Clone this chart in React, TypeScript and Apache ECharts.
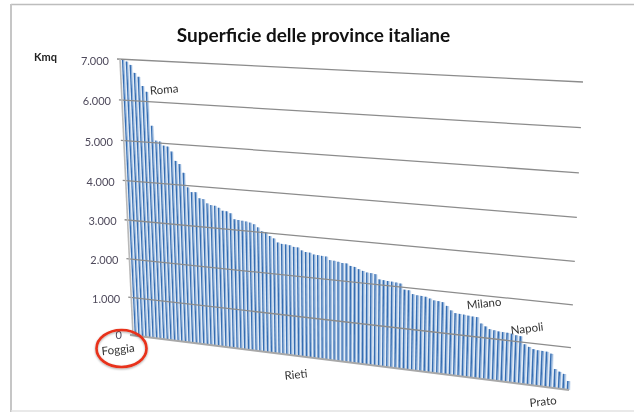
import React, { useEffect, useRef } from "react";
import * as echarts from "echarts";

const chartTitle = "Superficie delle province italiane";
const unitLabel = "Kmq";
const tickValues = [0, 1000, 2000, 3000, 4000, 5000, 6000, 7000];
const tickLabels = ["0", "1.000", "2.000", "3.000", "4.000", "5.000", "6.000", "7.000"];
const areas = [
  6980, 6945, 6870, 6680, 6590, 6370, 6235, 5410, 5050, 5035,
  4940, 4925, 4810, 4585, 4515, 4305, 3950, 3840, 3850, 3705,
  3690, 3595, 3560, 3550, 3510, 3445, 3440, 3400, 3260, 3250,
  3240, 3230, 3210, 3180, 3110, 3025, 3015, 2925, 2875, 2785,
  2760, 2755, 2745, 2715, 2710, 2645, 2615, 2610, 2575, 2570,
  2560, 2555, 2475, 2470, 2455, 2435, 2435, 2385, 2370, 2325,
  2295, 2265, 2260, 2245, 2130, 2120, 2110, 2105, 2095, 2080,
  1945, 1940, 1855, 1840, 1835, 1825, 1795, 1760, 1755, 1740,
  1660, 1565, 1510, 1505, 1495, 1485, 1475, 1470, 1330, 1275,
  1220, 1205, 1190, 1185, 1180, 1170, 1145, 1135, 955, 905,
  865, 850, 845, 840, 805, 455, 405, 365, 210,
];
const provinceNotes = [
  { name: "Roma", x: 164, y: 89, rot: 5 },
  { name: "Foggia", x: 118, y: 349, rot: 6 },
  { name: "Rieti", x: 296, y: 374, rot: 6 },
  { name: "Milano", x: 484, y: 303, rot: 6 },
  { name: "Napoli", x: 527, y: 328, rot: 7 },
  { name: "Prato", x: 543, y: 401, rot: 6 },
];

// Corners of the photographed (skewed) plot area
const BL = [133, 335], BR = [569, 390], TR = [583, 82], TL = [120, 59];
const lerp = (a: number, b: number, k: number) => a + (b - a) * k;
function plane(t: number, u0: number) {
  const u = u0 - 0.045 * u0 * (1 - u0);
  const bx = lerp(BL[0], BR[0], t), by = lerp(BL[1], BR[1], t);
  const tx = lerp(TL[0], TR[0], t), ty = lerp(TL[1], TR[1], t);
  return [lerp(bx, tx, u), lerp(by, ty, u)];
}
const perspective = (s: number) => 0.0065 + 0.869 * s + 0.1224 * s * s;

export default function App() {
  const ref = useRef<HTMLDivElement>(null);
  useEffect(() => {
    document.body.style.margin = "0";
    const chart = echarts.init(ref.current!, null, { renderer: "svg" });
    const last = areas.length - 1;
    const toUV = (params: any, p: number[]) => {
      const g = params.coordSys;
      return [(p[0] - g.x) / g.width, (g.y + g.height - p[1]) / g.height];
    };
    chart.setOption({
      animation: false,
      backgroundColor: "#ffffff",
      grid: { left: 100, right: 60, top: 60, bottom: 60 },
      xAxis: { type: "value", min: 0, max: last, show: false },
      yAxis: { type: "value", min: 0, max: 7000, interval: 1000, show: false },
      graphic: [
        { type: "line", shape: { x1: 11, y1: 4.5, x2: 634, y2: 4.5 }, style: { stroke: "#bdbdbd", lineWidth: 1.5 } },
        { type: "line", shape: { x1: 11, y1: 4, x2: 11, y2: 412 }, style: { stroke: "#c6c6c6", lineWidth: 2 } },
        { type: "line", shape: { x1: 11, y1: 411, x2: 634, y2: 411 }, style: { stroke: "#e2e2e2", lineWidth: 1.5 } },
        { type: "text", x: 313.5, y: 34, style: { text: chartTitle, font: "bold 19px Lato", fill: "#111", align: "center", verticalAlign: "middle" } },
        { type: "text", x: 45.5, y: 56, style: { text: unitLabel, font: "bold 11px Lato", fill: "#222", align: "center", verticalAlign: "middle" } },
        ...provinceNotes.map((n) => ({
          type: "text", x: n.x, y: n.y, rotation: (n.rot * Math.PI) / 180, z: 20,
          style: { text: n.name, font: "11.5px Lato", fill: "#333333", align: "center", verticalAlign: "middle" },
        })),
        { type: "ellipse", z: 21, shape: { cx: 121.5, cy: 348.5, rx: 25, ry: 18.5 }, style: { fill: "none", stroke: "#e8321a", lineWidth: 2.6, shadowBlur: 2, shadowColor: "rgba(0,0,0,0.35)", shadowOffsetY: 1 } },
      ],
      series: [
        {
          type: "custom", coordinateSystem: "cartesian2d", silent: true, z: 3,
          data: areas.map((v, i) => [i, v]),
          encode: { x: 0, y: 1 },
          renderItem: (params: any, api: any) => {
            const i = api.value(0), v = api.value(1);
            const quad = (a: number, b: number, fill: string) => {
              const pts = [[a, 0], [b, 0], [b, v], [a, v]].map((d) => {
                const [s, u] = toUV(params, api.coord(d));
                return plane(perspective(s), u);
              });
              return { type: "polygon", shape: { points: pts }, style: { fill } };
            };
            return {
              type: "group",
              children: [
                quad(i - 0.5, i + 0.5, "#dbe6f3"),
                quad(i - 0.3, i + 0.05, "#356db2"),
                quad(i + 0.05, i + 0.27, "#85aad6"),
              ],
            };
          },
        },
        {
          type: "custom", coordinateSystem: "cartesian2d", silent: true, z: 4,
          data: tickValues.map((v, i) => [0, v, tickLabels[i]]),
          encode: { x: 0, y: 1 },
          renderItem: (params: any, api: any) => {
            const value = api.value(1);
            const [, u] = toUV(params, api.coord([0, value]));
            const a = plane(0, u), b = plane(1, u);
            return {
              type: "group",
              children: [
                { type: "line", shape: { x1: a[0] - 3, y1: a[1], x2: b[0], y2: b[1] }, style: { stroke: value === 0 ? "#a8a8a8" : "#8c8c8c", lineWidth: value === 0 ? 2 : 1.3 } },
                { type: "text", x: a[0] - 11, y: a[1] + (value === 0 ? -1 : 1), style: { text: tickLabels[params.dataIndex], font: "11px Lato", fill: "#4f4a5c", align: "right", verticalAlign: "middle" } },
              ],
            };
          },
        },
        {
          type: "custom", coordinateSystem: "cartesian2d", silent: true, z: 5,
          data: [[0, 7000]],
          encode: { x: 0, y: 1 },
          renderItem: (params: any, api: any) => {
            const [, uTop] = toUV(params, api.coord([0, 7000]));
            const [, uBottom] = toUV(params, api.coord([0, 0]));
            const a = plane(0, uTop), b = plane(0, uBottom);
            return { type: "line", shape: { x1: a[0], y1: a[1], x2: b[0], y2: b[1] }, style: { stroke: "#b9b9b9", lineWidth: 1.6 } };
          },
        },
      ],
    });
    return () => chart.dispose();
  }, []);
  return <div ref={ref} style={{ position: "fixed", left: 0, top: 0, width: 634, height: 412, filter: "blur(0.55px)" }} />;
}
